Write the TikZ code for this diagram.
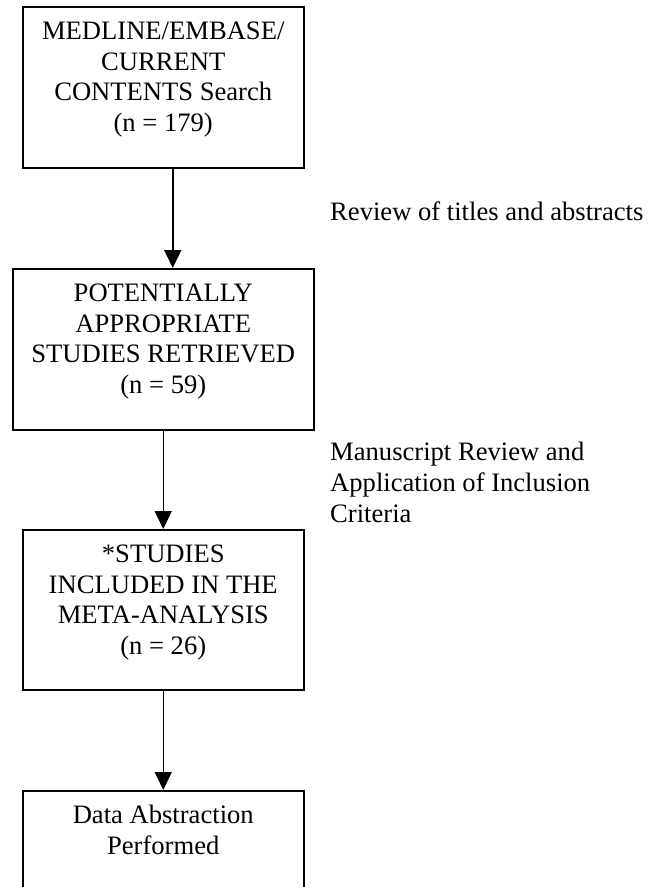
\documentclass[tikz,border=0pt]{standalone}
\usepackage{fontspec}
\setmainfont{Liberation Serif}
\usetikzlibrary{arrows.meta}
\newcommand\mybox[3]{\begin{minipage}[t][#2pt][t]{#1pt}\centering\fontsize{26.6}{30.6}\selectfont\rule{0pt}{33pt}#3\end{minipage}}
\begin{document}
\begin{tikzpicture}[x=1pt,y=-1pt,
  box/.style={draw, line width=1.5pt, inner sep=0pt, anchor=north west},
  conn/.style={line width=1.5pt, -{Triangle[width=17pt,length=18pt]}},
  note/.style={inner sep=0pt, font=\fontsize{26.6}{30.6}\selectfont}]
\useasboundingbox (0,0) rectangle (658,887);
\clip (0,0) rectangle (658,887);
\node[box] (b1) at (22,6) {\mybox{281}{161}{MEDLINE/EMBASE/\\CURRENT\\CONTENTS Search\\(n = 179)}};
\node[box] (b2) at (12,268) {\mybox{301}{161}{POTENTIALLY\\APPROPRIATE\\STUDIES RETRIEVED\\(n = 59)}};
\node[box] (b3) at (22,529) {\mybox{281}{160}{*STUDIES\\INCLUDED IN THE\\META-ANALYSIS\\(n = 26)}};
\node[box] (b4) at (22,790) {\mybox{281}{160}{Data Abstraction\\Performed}};
\draw[conn] ([xshift=9.5pt]b1.south) -- ([xshift=9.5pt]b1.south |- b2.north);
\draw[conn] (b2.south) -- (b3.north);
\draw[conn] (b3.south) -- (b4.north);
\node[note, anchor=base west] (l1) at (330,220) {Review of titles and abstracts};
\node[note, anchor=north west, align=left] (l2) at (330,440.7) {\rule{0pt}{20pt}Manuscript Review and\\Application of Inclusion\\Criteria};
\end{tikzpicture}
\end{document}
